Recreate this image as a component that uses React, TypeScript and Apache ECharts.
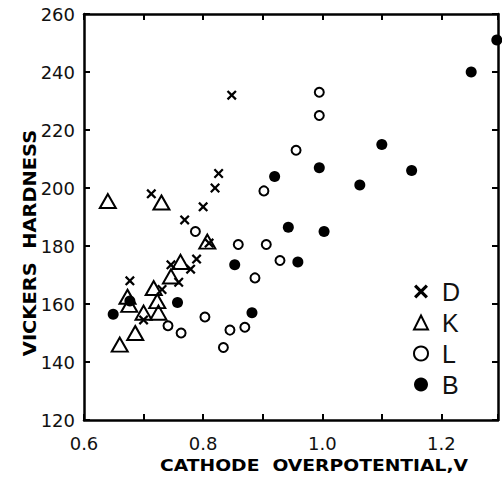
import React, { useEffect, useRef } from "react";
import * as echarts from "echarts";

// Cathode overpotential (V) vs Vickers hardness
const seriesNames = ["D", "K", "L", "B"];

const dPoints: [number, number][] = [
  [0.848, 232], [0.826, 205], [0.82, 200], [0.8, 193.5], [0.713, 198],
  [0.769, 189], [0.81, 181], [0.789, 175.5], [0.779, 172], [0.746, 173.5],
  [0.759, 167.5], [0.677, 168], [0.731, 165], [0.7, 154.5],
];
const kPoints: [number, number][] = [
  [0.64, 195.5], [0.73, 195], [0.807, 181.5], [0.762, 174.5], [0.746, 169.5],
  [0.717, 165.5], [0.673, 162.5], [0.676, 159.7], [0.723, 161], [0.7, 157],
  [0.725, 157], [0.686, 150], [0.66, 146],
];
const lPoints: [number, number][] = [
  [0.995, 233], [0.995, 225], [0.956, 213], [0.902, 199], [0.787, 185],
  [0.859, 180.5], [0.906, 180.5], [0.929, 175], [0.887, 169], [0.741, 152.5],
  [0.763, 150], [0.803, 155.5], [0.845, 151], [0.834, 145], [0.87, 152],
];
const bPoints: [number, number][] = [
  [1.293, 251], [1.25, 240], [1.1, 215], [0.995, 207], [1.15, 206],
  [0.92, 204], [1.063, 201], [0.943, 186.5], [1.003, 185], [0.959, 174.5],
  [0.853, 173.5], [0.757, 160.5], [0.882, 157], [0.649, 156.5], [0.677, 161],
];

const xTickLabels = ["0.6", "0.8", "1.0", "1.2"];
const yTickLabels = ["120", "140", "160", "180", "200", "220", "240", "260"];

const xTitle = "CATHODE  OVERPOTENTIAL,V";
const yTitle = "VICKERS  HARDNESS";

const crossPath =
  "path://M0,1.6 L1.6,0 L5,3.4 L8.4,0 L10,1.6 L6.6,5 L10,8.4 L8.4,10 L5,6.6 L1.6,10 L0,8.4 L3.4,5 Z";

export default function App() {
  const ref = useRef<HTMLDivElement>(null);
  useEffect(() => {
    if (!ref.current) return;
    const chart = echarts.init(ref.current, null, { renderer: "svg" });
    const font = "'DejaVu Sans', sans-serif";
    const legendFont = "'Liberation Sans', Arial, sans-serif";
    const axisLine = { show: true, lineStyle: { color: "#000", width: 2.5 } };
    const axisTick = { show: true, inside: true, length: 6, lineStyle: { color: "#000", width: 2 } };
    const xFmt = (v: number) => {
      const s = v.toFixed(1);
      return xTickLabels.includes(s) ? s : "";
    };
    const yFmt = (v: number) => {
      const s = String(Math.round(v));
      return yTickLabels.includes(s) ? s : "";
    };
    chart.setOption({
      animation: false,
      backgroundColor: "#fff",
      grid: { left: 84, right: 4, top: 14, bottom: 61, containLabel: false },
      xAxis: [
        {
          type: "value", min: 0.6, max: 1.295, interval: 0.1, position: "bottom",
          axisLine, axisTick, splitLine: { show: false },
          axisLabel: { formatter: xFmt, fontSize: 18, color: "#111", fontFamily: font, margin: 14 },
        },
        {
          type: "value", min: 0.6, max: 1.295, interval: 0.1, position: "top",
          axisLine, axisTick, splitLine: { show: false }, axisLabel: { show: false },
        },
      ],
      yAxis: [
        {
          type: "value", min: 120, max: 260, interval: 20, position: "left",
          axisLine, axisTick, splitLine: { show: false },
          axisLabel: { formatter: yFmt, fontSize: 18, color: "#111", fontFamily: font, margin: 9 },
        },
        {
          type: "value", min: 120, max: 260, interval: 20, position: "right",
          axisLine, axisTick, splitLine: { show: false }, axisLabel: { show: false },
        },
      ],
      legend: {
        data: seriesNames,
        orient: "vertical",
        left: 408,
        top: 274,
        itemWidth: 14,
        itemHeight: 14,
        itemGap: 6,
        textStyle: { fontSize: 25, color: "#111", fontFamily: legendFont, padding: [0, 0, 0, 9] },
      },
      graphic: [
        {
          type: "text", x: 160, y: 457, scaleX: 1.17,
          style: { text: xTitle, font: `bold 16px ${font}`, fill: "#000" },
        },
        {
          type: "text", x: 39, y: 243, rotation: Math.PI / 2, scaleX: 1.08,
          style: { text: yTitle, font: `bold 18px ${font}`, fill: "#000", align: "center", verticalAlign: "bottom" },
        },
      ],
      series: [
        {
          name: "D", type: "scatter", data: dPoints, symbol: crossPath, symbolSize: 10,
          itemStyle: { color: "#000", opacity: 1 },
        },
        {
          name: "K", type: "scatter", data: kPoints, symbol: "triangle", symbolSize: [16, 14],
          itemStyle: { color: "rgba(0,0,0,0)", borderColor: "#000", borderWidth: 2, opacity: 1 },
        },
        {
          name: "L", type: "scatter", data: lPoints, symbol: "circle", symbolSize: 9,
          itemStyle: { color: "rgba(0,0,0,0)", borderColor: "#000", borderWidth: 2, opacity: 1 },
        },
        {
          name: "B", type: "scatter", data: bPoints, symbol: "circle", symbolSize: 11,
          itemStyle: { color: "#000", opacity: 1 },
        },
      ],
    });
    return () => chart.dispose();
  }, []);
  return <div ref={ref} style={{ width: 502, height: 481, position: "absolute", left: 0, top: 0 }} />;
}
